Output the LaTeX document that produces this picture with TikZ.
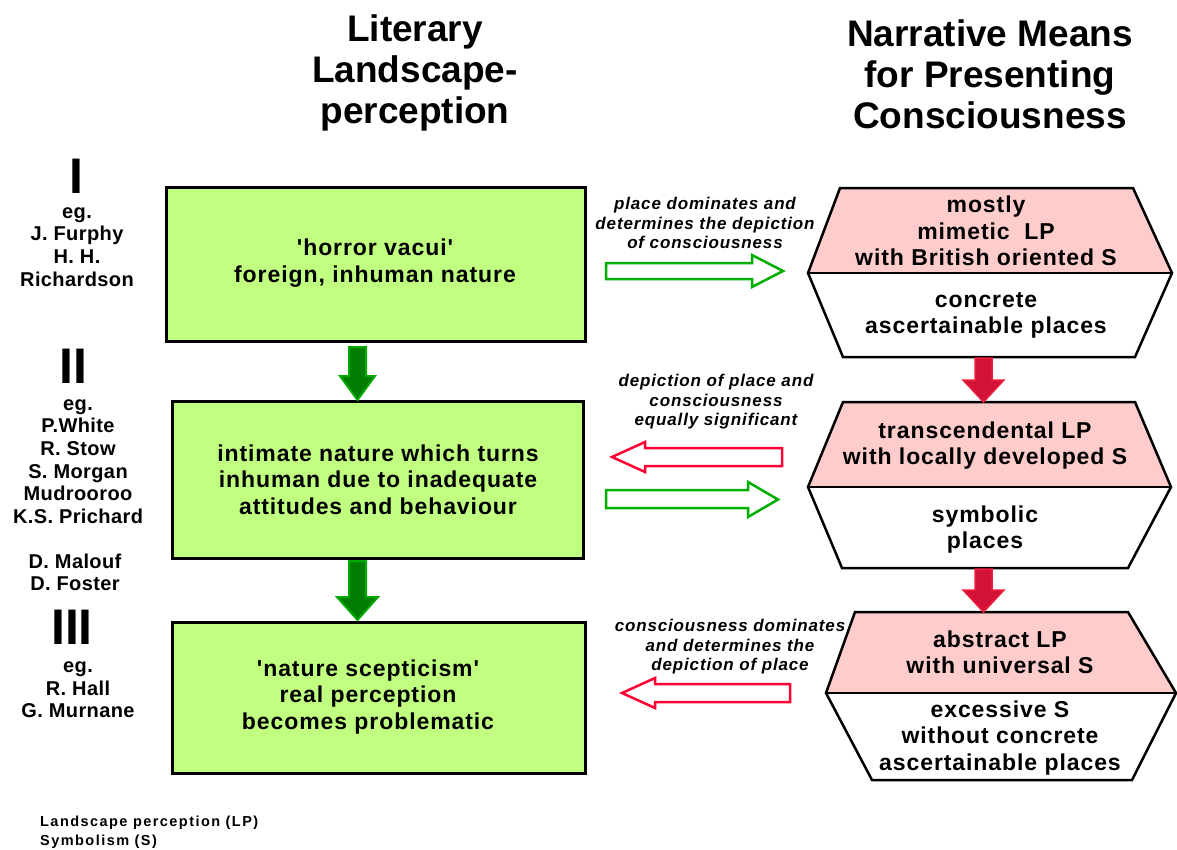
\documentclass[tikz,border=0pt]{standalone}
\usepackage{fontspec}
\setmainfont{Liberation Sans}
\newfontfamily\spfont{Liberation Sans}[LetterSpace=4]
\newfontfamily\spfontl{Liberation Sans}[LetterSpace=5]
\newfontfamily\spfontg{Liberation Sans}[LetterSpace=10]
\newfontfamily\spfontw{Liberation Sans}[LetterSpace=2]
\definecolor{boxgreen}{RGB}{192,255,128}
\definecolor{hexpink}{RGB}{255,204,204}
\definecolor{dkgreen}{RGB}{0,125,0}
\definecolor{mdgreen}{RGB}{0,170,0}
\definecolor{olgreen}{RGB}{0,175,0}
\definecolor{arrred}{RGB}{210,18,55}
\definecolor{edgered}{RGB}{240,30,60}
\definecolor{olred}{RGB}{255,0,51}
\tikzset{
  greenbox/.style={draw=black, line width=3pt, fill=boxgreen, inner sep=0pt},
  boxtext/.style={font=\fontsize{23}{26.5}\selectfont\spfont\bfseries, align=center},
  hextext/.style={font=\fontsize{23}{26.5}\selectfont\spfont\bfseries, align=center, inner sep=0pt},
  hexline/.style={draw=black, line width=2.5pt, line join=miter},
  titletext/.style={font=\fontsize{37}{41}\selectfont\bfseries, align=center},
  nametext/.style={font=\fontsize{20}{22.6}\selectfont\spfontw\bfseries, align=center, inner sep=0pt},
  numtext/.style={font=\fontsize{50}{50}\selectfont\bfseries, inner sep=0pt},
  labeltext/.style={font=\fontsize{17}{19.5}\selectfont\spfontl\bfseries\itshape, align=center, inner sep=0pt},
  legendtext/.style={font=\fontsize{14.5}{20}\selectfont\spfontg\bfseries, align=left, inner sep=0pt},
  downgreen/.style={fill=dkgreen, draw=mdgreen, line width=2pt, line join=miter},
  downred/.style={fill=arrred, draw=edgered, line width=1.5pt, line join=miter},
  hollowgreen/.style={draw=olgreen, line width=2.5pt, fill=white, line join=miter},
  hollowred/.style={draw=olred, line width=2.5pt, fill=white, line join=miter},
}
\begin{document}
\begin{tikzpicture}[x=1pt,y=-1pt]
\path[use as bounding box, fill=white] (0,0) rectangle (1177,849);

% titles
\node[titletext] (t1) at (415,73) {Literary\\Landscape-\\perception};
\node[titletext] (t2) at (990,74) {Narrative Means\\for Presenting\\Consciousness};

% roman numerals and authors
\node[numtext] (n1) at (76,176) {I};
\node[numtext] (n2) at (73,366) {II};
\node[numtext] (n3) at (72,627) {III};
\node[nametext] (a1) at (77,247) {eg.\\J. Furphy\\H. H.\\Richardson};
\node[nametext] (a2) at (78,461.5) {eg.\\P.White\\R. Stow\\S. Morgan\\Mudrooroo\\K.S. Prichard};
\node[nametext] (a2b) at (75,572.5) {D. Malouf\\D. Foster};
\node[nametext] (a3) at (78,690) {eg.\\R. Hall\\G. Murnane};

% green boxes
\node[greenbox, minimum width=419pt, minimum height=154pt] (b1) at (375.5,264) {};
\node[boxtext] (b1t) at (375,263) {'horror vacui'\\foreign, inhuman nature};
\node[greenbox, minimum width=411pt, minimum height=157pt] (b2) at (377.5,479.5) {};
\node[boxtext] (b2t) at (378,479.5) {intimate nature which turns\\inhuman due to inadequate\\attitudes and behaviour};
\node[greenbox, minimum width=413pt, minimum height=151pt] (b3) at (378.5,697.5) {};
\node[boxtext] (b3t) at (368,697) {'nature scepticism'\\real perception\\becomes problematic};

% green down arrows
\draw[downgreen] (349,347) -- (366,347) -- (366,376) -- (375,376) -- (357.5,400) -- (340,376) -- (349,376) -- cycle;
\draw[downgreen] (349,561) -- (366,561) -- (366,597) -- (378,597) -- (357.5,620) -- (337,597) -- (349,597) -- cycle;

% hexagons
\fill[hexpink] (840,188) -- (1133,188) -- (1172,273) -- (808,273) -- cycle;
\draw[hexline] (840,188) -- (1133,188) -- (1172,273) -- (1135,357) -- (843,357) -- (808,273) -- cycle;
\draw[hexline] (808,273) -- (1172,273);
\node[hextext] (h1u) at (986,231) {mostly\\mimetic\ \ LP\\with British oriented S};
\node[hextext] (h1l) at (986,315.5) {concrete\\ascertainable places};

\fill[hexpink] (843,402) -- (1135,402) -- (1171,487) -- (808,487) -- cycle;
\draw[hexline] (843,402) -- (1135,402) -- (1171,487) -- (1128,568) -- (842,568) -- (808,487) -- cycle;
\draw[hexline] (808,487) -- (1171,487);
\node[hextext] (h2u) at (985,445.5) {transcendental LP\\with locally developed S};
\node[hextext] (h2l) at (985,529.5) {symbolic\\places};

\fill[hexpink] (855,612) -- (1128,612) -- (1176,693) -- (826,693) -- cycle;
\draw[hexline] (855,612) -- (1128,612) -- (1176,693) -- (1132,780) -- (872,780) -- (826,693) -- cycle;
\draw[hexline] (826,693) -- (1176,693);
\node[hextext] (h3u) at (1000,652.5) {abstract LP\\with universal S};
\node[hextext] (h3l) at (1000,738) {excessive S\\without concrete\\ascertainable places};

% red down arrows
\draw[downred] (975,358) -- (992,358) -- (992,380) -- (1004,380) -- (983.5,402) -- (963,380) -- (975,380) -- cycle;
\draw[downred] (975,569) -- (992,569) -- (992,590) -- (1004,590) -- (983.5,612) -- (963,590) -- (975,590) -- cycle;

% hollow horizontal arrows
\draw[hollowgreen] (606,263) -- (752,263) -- (752,255) -- (783,271) -- (752,287) -- (752,279) -- (606,279) -- cycle;
\draw[hollowred] (782,448) -- (645,448) -- (645,442) -- (612,457) -- (645,472) -- (645,466) -- (782,466) -- cycle;
\draw[hollowgreen] (606,490) -- (748,490) -- (748,482) -- (778,499.5) -- (748,517) -- (748,508) -- (606,508) -- cycle;
\draw[hollowred] (790,684) -- (655,684) -- (655,678) -- (622,693) -- (655,708) -- (655,702) -- (790,702) -- cycle;

% labels
\node[labeltext] (l1) at (705,223) {place dominates and\\determines the depiction\\of consciousness};
\node[labeltext] (l2) at (716,402) {depiction of place and\\consciousness\\equally significant};
\node[labeltext] (l3) at (730,647) {consciousness dominates\\and determines the\\depiction of place};

% legend
\node[legendtext, anchor=west] (lg1) at (40,823) {Landscape perception (LP)};
\node[legendtext, anchor=west] (lg2) at (40,842) {Symbolism (S)};
\end{tikzpicture}
\end{document}
